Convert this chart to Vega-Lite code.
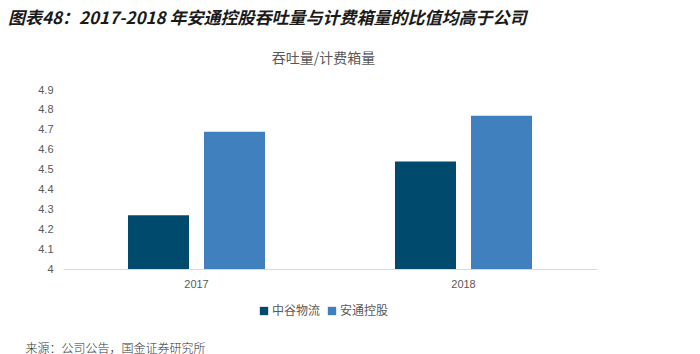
{
  "$schema": "https://vega.github.io/schema/vega-lite/v6.json",
  "width": 534,
  "height": 179,
  "autosize": {"type": "none"},
  "padding": {"left": 63, "top": 90, "right": 103, "bottom": 85},
  "background": "white",
  "title": {
    "text": "图表48：2017-2018 年安通控股吞吐量与计费箱量的比值均高于公司",
    "anchor": "start",
    "frame": "group",
    "dx": -55,
    "offset": 23,
    "font": "Noto Sans CJK SC",
    "fontSize": 17,
    "fontWeight": "bold",
    "fontStyle": "italic",
    "color": "#1a1a1a"
  },
  "data": {
    "values": [
      {"year": "2017", "company": "中谷物流", "value": 4.27},
      {"year": "2017", "company": "安通控股", "value": 4.69},
      {"year": "2018", "company": "中谷物流", "value": 4.54},
      {"year": "2018", "company": "安通控股", "value": 4.77}
    ]
  },
  "mark": {"type": "bar", "clip": true},
  "encoding": {
    "x": {
      "field": "year",
      "type": "nominal",
      "scale": {"paddingInner": 0, "paddingOuter": 0},
      "axis": {
        "title": "来源：公司公告，国金证券研究所",
        "titleX": -38,
        "titleY": 79,
        "titleAlign": "left",
        "titleBaseline": "middle",
        "titleFont": "Noto Sans CJK SC",
        "titleFontSize": 12,
        "titleFontWeight": 300,
        "titleColor": "#333333",
        "labelAngle": 0,
        "labelFont": "Liberation Sans",
        "labelFontSize": 11,
        "labelColor": "#595959",
        "labelPadding": 9,
        "ticks": false,
        "domainColor": "#d9d9d9",
        "domainWidth": 1
      }
    },
    "xOffset": {
      "field": "company",
      "type": "nominal",
      "scale": {"paddingInner": 0.197, "paddingOuter": 0.855}
    },
    "y": {
      "field": "value",
      "type": "quantitative",
      "scale": {"domain": [4, 4.9], "zero": false, "nice": false},
      "axis": {
        "values": [4, 4.1, 4.2, 4.3, 4.4, 4.5, 4.6, 4.7, 4.8, 4.9],
        "format": ".1~f",
        "title": "吞吐量/计费箱量",
        "titleAngle": 0,
        "titleX": 260,
        "titleY": -32,
        "titleAlign": "center",
        "titleBaseline": "middle",
        "titleFont": "Noto Sans CJK SC",
        "titleFontSize": 14,
        "titleFontWeight": "normal",
        "titleColor": "#595959",
        "labelFont": "Liberation Sans",
        "labelFontSize": 11,
        "labelColor": "#595959",
        "labelPadding": 10,
        "ticks": false,
        "domain": false,
        "grid": false
      }
    },
    "color": {
      "field": "company",
      "type": "nominal",
      "scale": {"domain": ["中谷物流", "安通控股"], "range": ["#004a6e", "#4180be"]},
      "legend": {
        "orient": "none",
        "legendX": 195,
        "legendY": 215,
        "direction": "horizontal",
        "title": null,
        "symbolType": "square",
        "symbolSize": 70,
        "symbolStrokeWidth": 0,
        "labelFont": "Noto Sans CJK SC",
        "labelFontSize": 12,
        "labelColor": "#595959",
        "labelOffset": 2,
        "columnPadding": 5
      }
    }
  },
  "config": {"view": {"stroke": null}}
}
